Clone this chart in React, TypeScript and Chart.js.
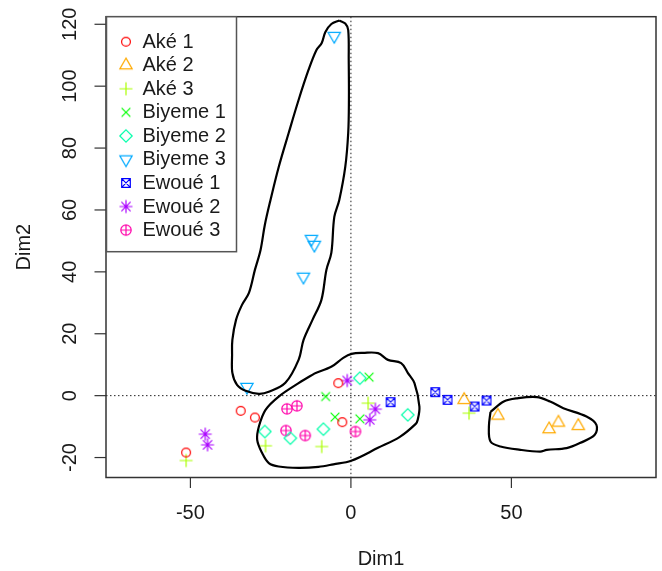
import React, { useEffect, useRef } from "react";
import { Chart, registerables } from "chart.js";

Chart.register(...registerables);

// ---------- data ----------
const seriesLabels = ["Aké 1", "Aké 2", "Aké 3", "Biyeme 1", "Biyeme 2", "Biyeme 3", "Ewoué 1", "Ewoué 2", "Ewoué 3"];
const seriesColors = ["#FF0000", "#FFAA00", "#AAFF00", "#00FF00", "#00FFAA", "#00AAFF", "#0000FF", "#AA00FF", "#FF00AA"];
const markerKinds = ["circle", "triangleUp", "plus", "times", "diamond", "triangleDown", "boxTimes", "asterisk", "circlePlus"];

const ake1 = [
  { x: -3.93, y: 4.04 }, { x: -34.33, y: -4.91 }, { x: -29.91, y: -7.07 }, { x: -2.69, y: -8.56 }, { x: -51.35, y: -18.38 },
];
const ake2 = [
  { x: 35.26, y: -1.36 }, { x: 45.78, y: -6.43 }, { x: 61.74, y: -10.82 }, { x: 64.65, y: -8.69 }, { x: 70.83, y: -9.75 },
];
const ake3 = [
  { x: -51.35, y: -20.96 }, { x: -26.6, y: -16.21 }, { x: -9.09, y: -16.44 }, { x: 5.35, y: -2.42 }, { x: 36.81, y: -5.65 },
];
const biyeme1 = [
  { x: -7.86, y: -0.29 }, { x: -4.95, y: -6.94 }, { x: 2.78, y: -7.49 }, { x: 5.66, y: 5.98 },
];
const biyeme2 = [
  { x: -26.82, y: -11.6 }, { x: -18.87, y: -13.73 }, { x: -8.57, y: -10.82 }, { x: 2.78, y: 5.65 }, { x: 17.72, y: -6.2 },
];
const biyeme3 = [
  { x: -5.2, y: 116.2 }, { x: -12.3, y: 50.6 }, { x: -11.4, y: 48.7 }, { x: -14.8, y: 38.4 }, { x: -32.4, y: 2.8 },
];
const ewoue1 = [
  { x: 12.37, y: -2.1 }, { x: 26.29, y: 1.13 }, { x: 30.1, y: -1.36 }, { x: 38.54, y: -3.52 }, { x: 42.25, y: -1.58 },
];
const ewoue2 = [
  { x: -45.38, y: -12.44 }, { x: -44.66, y: -15.89 }, { x: -1.14, y: 4.88 }, { x: 7.61, y: -4.36 }, { x: 5.88, y: -7.82 },
];
const ewoue3 = [
  { x: -19.92, y: -4.26 }, { x: -16.83, y: -3.29 }, { x: -20.23, y: -11.27 }, { x: -14.23, y: -12.89 }, { x: 1.42, y: -11.6 },
];
const seriesData = [ake1, ake2, ake3, biyeme1, biyeme2, biyeme3, ewoue1, ewoue2, ewoue3];

const contourBiyeme3 = [
  { x: -3.62, y: 121.22 }, { x: -1.76, y: 120.25 }, { x: -0.84, y: 118.15 }, { x: -0.68, y: 108.46 }, { x: -0.62, y: 95.54 },
  { x: -0.84, y: 84.88 }, { x: -1.76, y: 73.9 }, { x: -3.62, y: 63.24 }, { x: -5.17, y: 57.75 }, { x: -6.1, y: 46.12 },
  { x: -7.64, y: 40.63 }, { x: -9.19, y: 30.94 }, { x: -11.97, y: 24.48 }, { x: -14.75, y: 18.02 }, { x: -16.3, y: 11.56 },
  { x: -20.41, y: 4.13 }, { x: -25.58, y: 1.23 }, { x: -28.67, y: 0.58 }, { x: -32.79, y: 1.55 }, { x: -35.48, y: 3.49 },
  { x: -36.93, y: 7.36 }, { x: -37.02, y: 13.18 }, { x: -36.93, y: 18.02 }, { x: -35.79, y: 24.48 }, { x: -33.93, y: 29.33 },
  { x: -31.77, y: 33.2 }, { x: -29.91, y: 40.63 }, { x: -28.15, y: 47.09 }, { x: -26.82, y: 55.17 }, { x: -25.05, y: 63.24 },
  { x: -22.49, y: 73.9 }, { x: -19.39, y: 84.88 }, { x: -16.3, y: 95.54 }, { x: -13.21, y: 105.23 }, { x: -10.73, y: 111.69 },
  { x: -9.09, y: 113.95 }, { x: -7.95, y: 117.51 }, { x: -6.09, y: 120.09 }, { x: -3.62, y: 121.22 },
];
const contourCentre = [
  { x: -11.14, y: 7.27 }, { x: -6.0, y: 9.4 }, { x: -2.38, y: 12.21 }, { x: 0.19, y: 13.5 }, { x: 3.8, y: 13.82 },
  { x: 8.44, y: 13.73 }, { x: 11.54, y: 11.56 }, { x: 15.65, y: 10.5 }, { x: 17.72, y: 7.36 }, { x: 19.8, y: 4.04 },
  { x: 21.34, y: -3.52 }, { x: 20.82, y: -7.82 }, { x: 20.2, y: -9.11 }, { x: 15.25, y: -13.31 }, { x: 8.44, y: -16.86 },
  { x: 0.09, y: -21.05 }, { x: -5.47, y: -22.19 }, { x: -10.11, y: -23.0 }, { x: -16.3, y: -23.32 }, { x: -22.49, y: -22.9 },
  { x: -25.58, y: -21.8 }, { x: -27.65, y: -18.57 }, { x: -29.2, y: -14.28 }, { x: -28.67, y: -9.98 }, { x: -26.6, y: -4.59 },
  { x: -22.49, y: -0.29 }, { x: -16.3, y: 4.04 }, { x: -11.14, y: 7.27 },
];
const contourAke2 = [
  { x: 43.49, y: -5.23 }, { x: 47.63, y: -1.91 }, { x: 51.75, y: -0.87 }, { x: 57.93, y: -0.48 }, { x: 62.05, y: -1.91 },
  { x: 66.19, y: -4.04 }, { x: 73.4, y: -6.75 }, { x: 76.49, y: -9.43 }, { x: 75.97, y: -12.66 }, { x: 71.33, y: -15.34 },
  { x: 67.21, y: -16.96 }, { x: 61.03, y: -17.51 }, { x: 58.95, y: -18.06 }, { x: 52.77, y: -17.51 }, { x: 46.58, y: -16.44 },
  { x: 43.49, y: -14.83 }, { x: 42.99, y: -9.98 }, { x: 43.49, y: -5.23 },
];

const xTicks = [-50, 0, 50];
const yTicks = [-20, 0, 20, 40, 60, 80, 100, 120];
const xRange = [-76.3, 95.05];
const yRange = [-26.45, 122.45];
const xTitle = "Dim1";
const yTitle = "Dim2";

// ---------- styling ----------
const FONT = '20px "Liberation Sans", Arial, Helvetica, sans-serif';
const TEXT = "#1a1a1a";
const RAD = 4.6;

function makeMarker(kind: string, color: string): HTMLCanvasElement {
  const s = 20;
  const c = document.createElement("canvas");
  c.width = s;
  c.height = s;
  const ctx = c.getContext("2d")!;
  const m = s / 2;
  ctx.strokeStyle = color;
  ctx.lineWidth = 1.2;
  ctx.beginPath();
  const line = (x1: number, y1: number, x2: number, y2: number) => {
    ctx.moveTo(m + x1, m + y1);
    ctx.lineTo(m + x2, m + y2);
  };
  switch (kind) {
    case "circle":
      ctx.arc(m, m, 4.4, 0, Math.PI * 2);
      break;
    case "triangleUp": {
      const r = 1.555 * RAD, xc = 1.3468 * RAD, yc = 0.7776 * RAD;
      ctx.moveTo(m, m - r);
      ctx.lineTo(m + xc, m + yc);
      ctx.lineTo(m - xc, m + yc);
      ctx.closePath();
      break;
    }
    case "triangleDown": {
      const r = 1.555 * RAD, xc = 1.3468 * RAD, yc = 0.7776 * RAD;
      ctx.moveTo(m, m + r);
      ctx.lineTo(m + xc, m - yc);
      ctx.lineTo(m - xc, m - yc);
      ctx.closePath();
      break;
    }
    case "plus": {
      const h = Math.SQRT2 * RAD;
      line(-h, 0, h, 0);
      line(0, -h, 0, h);
      break;
    }
    case "times": {
      const h = RAD * 0.95;
      line(-h, -h, h, h);
      line(-h, h, h, -h);
      break;
    }
    case "diamond": {
      const h = 6.2;
      ctx.moveTo(m, m - h);
      ctx.lineTo(m + h, m);
      ctx.lineTo(m, m + h);
      ctx.lineTo(m - h, m);
      ctx.closePath();
      break;
    }
    case "boxTimes": {
      const h = 4.3;
      ctx.rect(m - h, m - h, 2 * h, 2 * h);
      line(-h, -h, h, h);
      line(-h, h, h, -h);
      break;
    }
    case "asterisk": {
      const h = RAD;
      line(-h, -h, h, h);
      line(-h, h, h, -h);
      const p = Math.SQRT2 * RAD;
      line(-p, 0, p, 0);
      line(0, -p, 0, p);
      break;
    }
    case "circlePlus": {
      const h = 5.2;
      ctx.moveTo(m + h, m);
      ctx.arc(m, m, h, 0, Math.PI * 2);
      line(-h, 0, h, 0);
      line(0, -h, 0, h);
      break;
    }
  }
  ctx.stroke();
  return c;
}

const decorPlugin = {
  id: "decor",
  beforeDatasetsDraw(chart: any) {
    const { ctx, chartArea: a, scales } = chart;
    const x0 = scales.x.getPixelForValue(0);
    const y0 = scales.y.getPixelForValue(0);
    ctx.save();
    ctx.strokeStyle = "#222";
    ctx.lineWidth = 1;
    ctx.setLineDash([1.5, 2.5]);
    ctx.beginPath();
    ctx.moveTo(x0, a.top);
    ctx.lineTo(x0, a.bottom);
    ctx.moveTo(a.left, y0);
    ctx.lineTo(a.right, y0);
    ctx.stroke();
    ctx.restore();
  },
  afterDraw(chart: any) {
    const { ctx, chartArea: a, scales } = chart;
    ctx.save();
    // plot box
    ctx.strokeStyle = "#333";
    ctx.lineWidth = 1.5;
    ctx.strokeRect(a.left, a.top, a.right - a.left, a.bottom - a.top);

    ctx.font = FONT;
    ctx.fillStyle = TEXT;
    ctx.lineWidth = 1.2;
    // x ticks
    ctx.textAlign = "center";
    ctx.textBaseline = "middle";
    for (const t of scales.x.ticks) {
      const px = scales.x.getPixelForValue(t.value);
      ctx.beginPath();
      ctx.moveTo(px, a.bottom);
      ctx.lineTo(px, a.bottom + 10.5);
      ctx.stroke();
      ctx.fillText(String(t.value), px, 513.5);
    }
    // y ticks
    for (const t of scales.y.ticks) {
      const py = scales.y.getPixelForValue(t.value);
      ctx.beginPath();
      ctx.moveTo(a.left, py);
      ctx.lineTo(a.left - 11.5, py);
      ctx.stroke();
      ctx.save();
      ctx.translate(70.5, py);
      ctx.rotate(-Math.PI / 2);
      ctx.fillText(String(t.value), 0, 0);
      ctx.restore();
    }
    // axis titles
    ctx.fillText(xTitle, (a.left + a.right) / 2, 559);
    ctx.save();
    ctx.translate(24.5, (a.top + a.bottom) / 2);
    ctx.rotate(-Math.PI / 2);
    ctx.fillText(yTitle, 0, 0);
    ctx.restore();

    // legend
    const lx = a.left + 0.5, ly = a.top, lw = 130, lh = 235;
    ctx.fillStyle = "#fff";
    ctx.fillRect(lx, ly, lw, lh);
    ctx.strokeStyle = "#555";
    ctx.lineWidth = 1.5;
    ctx.strokeRect(lx, ly, lw, lh);
    ctx.textAlign = "left";
    ctx.fillStyle = TEXT;
    const dsets = chart.data.datasets.filter((d: any) => d.isSeries);
    dsets.forEach((d: any, i: number) => {
      const ry = 41.7 + i * 23.55;
      const img = d.pointStyle as HTMLCanvasElement;
      ctx.drawImage(img, 126 - img.width / 2, ry - img.height / 2);
      ctx.fillText(d.label, 142.5, ry + 0.5);
    });
    ctx.restore();
  },
};

export default function App() {
  const ref = useRef<HTMLCanvasElement | null>(null);
  useEffect(() => {
    if (!ref.current) return;
    const contourStyle = {
      showLine: true,
      pointRadius: 0,
      borderColor: "#000",
      borderWidth: 2.2,
      tension: 0.35,
      fill: false,
      isSeries: false,
    };
    const datasets: any[] = [
      { label: "contour1", data: contourBiyeme3, ...contourStyle },
      { label: "contour2", data: contourCentre, ...contourStyle },
      { label: "contour3", data: contourAke2, ...contourStyle },
      ...seriesLabels.map((lab, i) => ({
        label: lab,
        data: seriesData[i],
        isSeries: true,
        pointStyle: makeMarker(markerKinds[i], seriesColors[i]),
        pointRadius: 5,
        showLine: false,
        borderColor: seriesColors[i],
        backgroundColor: seriesColors[i],
      })),
    ];
    const chart = new Chart(ref.current, {
      type: "scatter",
      data: { datasets },
      options: {
        animation: false,
        responsive: false,
        events: [],
        layout: { padding: { left: 0, top: 16.7, right: 2, bottom: 0 } },
        plugins: { legend: { display: false }, tooltip: { enabled: false } },
        scales: {
          x: {
            type: "linear",
            min: xRange[0],
            max: xRange[1],
            grid: { display: false },
            border: { display: false },
            ticks: { display: false },
            afterBuildTicks: (s: any) => {
              s.ticks = xTicks.map((v) => ({ value: v }));
            },
            afterFit: (s: any) => {
              s.height = 93.5;
            },
          },
          y: {
            type: "linear",
            min: yRange[0],
            max: yRange[1],
            grid: { display: false },
            border: { display: false },
            ticks: { display: false },
            afterBuildTicks: (s: any) => {
              s.ticks = yTicks.map((v) => ({ value: v }));
            },
            afterFit: (s: any) => {
              s.width = 106;
            },
          },
        },
      } as any,
      plugins: [decorPlugin],
    });
    return () => chart.destroy();
  }, []);
  return (
    <div style={{ position: "absolute", left: 0, top: 0, width: 662, height: 571, background: "#fff" }}>
      <canvas ref={ref} width={662} height={571} style={{ display: "block" }} />
    </div>
  );
}
